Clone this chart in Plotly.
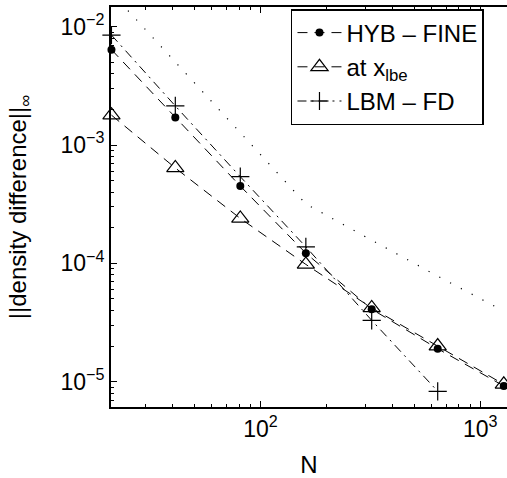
import math
import plotly.graph_objects as go

# ---- data ----
N = [21, 41, 81, 161, 321, 641, 1281]
hyb_fine = [6.4e-3, 1.71e-3, 4.5e-4, 1.22e-4, 4.1e-5, 1.9e-5, 9.2e-6]
at_xlbe = [1.79e-3, 6.4e-4, 2.4e-4, 9.8e-5, 4.2e-5, 2.0e-5, 9.5e-6]
N_lbm = [21, 41, 81, 161, 321, 641]
lbm_fd = [8.5e-3, 2.14e-3, 5.4e-4, 1.38e-4, 3.3e-5, 8.3e-6]
ref_line = [1.94e-2, 5.06e-3, 1.29e-3, 3.18e-4, 1.57e-4, 7.8e-5, 3.95e-5]

x_tickvals = [100, 1000]
x_ticktext = ["10<sup>2</sup>", "10<sup>3</sup>"]
y_tickvals = [1e-5, 1e-4, 1e-3, 1e-2]
y_ticktext = ["10<sup>−5</sup>", "10<sup>−4</sup>", "10<sup>−3</sup>", "10<sup>−2</sup>"]

x_minor = [m * 10 ** e for e in (1, 2, 3) for m in range(2, 10)]
y_minor = [m * 10 ** e for e in (-6, -5, -4, -3, -2) for m in range(2, 10)]

FONT = "Liberation Sans, Arial, Helvetica, sans-serif"

fig = go.Figure()

fig.add_trace(go.Scatter(
    x=N, y=hyb_fine, name="HYB – FINE", mode="lines+markers",
    line=dict(color="black", width=1, dash="10px,7px"),
    marker=dict(symbol="circle", size=8, color="black"),
    cliponaxis=False,
))
fig.add_trace(go.Scatter(
    x=N, y=at_xlbe, name="at x<sub>lbe</sub>", mode="lines+markers",
    line=dict(color="black", width=1, dash="10px,7px"),
    marker=dict(symbol="triangle-up-open", size=15, color="black", line=dict(width=1.2, color="black")),
    cliponaxis=False,
))
fig.add_trace(go.Scatter(
    x=N_lbm, y=lbm_fd, name="LBM – FD", mode="lines+markers",
    line=dict(color="black", width=1, dash="9px,5px,2px,5px"),
    marker=dict(symbol="cross-thin-open", size=13, color="black", line=dict(width=1.2, color="black")),
    cliponaxis=False,
))
fig.add_trace(go.Scatter(
    x=N, y=ref_line, mode="lines", showlegend=False,
    line=dict(color="black", width=1.2, dash="1.2px,11px"),
))

fig.update_layout(
    width=507, height=478,
    margin=dict(l=111, r=0, t=7, b=71),
    paper_bgcolor="white", plot_bgcolor="white",
    font=dict(family=FONT, size=24, color="black"),
    showlegend=True,
    legend=dict(
        x=0.4545, y=0.995, xanchor="left", yanchor="top",
        bgcolor="white", bordercolor="black", borderwidth=1.5,
        font=dict(family=FONT, size=24, color="black"),
        tracegroupgap=0, itemwidth=44,
    ),
)

fig.update_xaxes(
    type="log", range=[math.log10(20.9), 3.1222],
    showgrid=False, zeroline=False,
    showline=True, linecolor="black", linewidth=2, mirror="ticks",
    ticks="inside", ticklen=6, tickwidth=1, tickcolor="black",
    tickvals=x_tickvals, ticktext=x_ticktext,
    tickfont=dict(family=FONT, size=23, color="black"),
    minor=dict(tickvals=x_minor, ticks="inside", ticklen=3, tickwidth=1, tickcolor="black", showgrid=False),
    title=dict(text="N", font=dict(family=FONT, size=24, color="black"), standoff=17),
)
fig.update_yaxes(
    type="log", range=[-5.2138, -1.8335],
    showgrid=False, zeroline=False,
    showline=True, linecolor="black", linewidth=2, mirror=False,
    ticks="inside", ticklen=6, tickwidth=1, tickcolor="black",
    tickvals=y_tickvals, ticktext=y_ticktext,
    tickfont=dict(family=FONT, size=23, color="black"),
    minor=dict(tickvals=y_minor, ticks="inside", ticklen=3, tickwidth=1, tickcolor="black", showgrid=False),
    title=dict(text="||density difference||<sub>∞</sub>", font=dict(family=FONT, size=24, color="black"), standoff=27),
)

fig.write_html("out.html")
